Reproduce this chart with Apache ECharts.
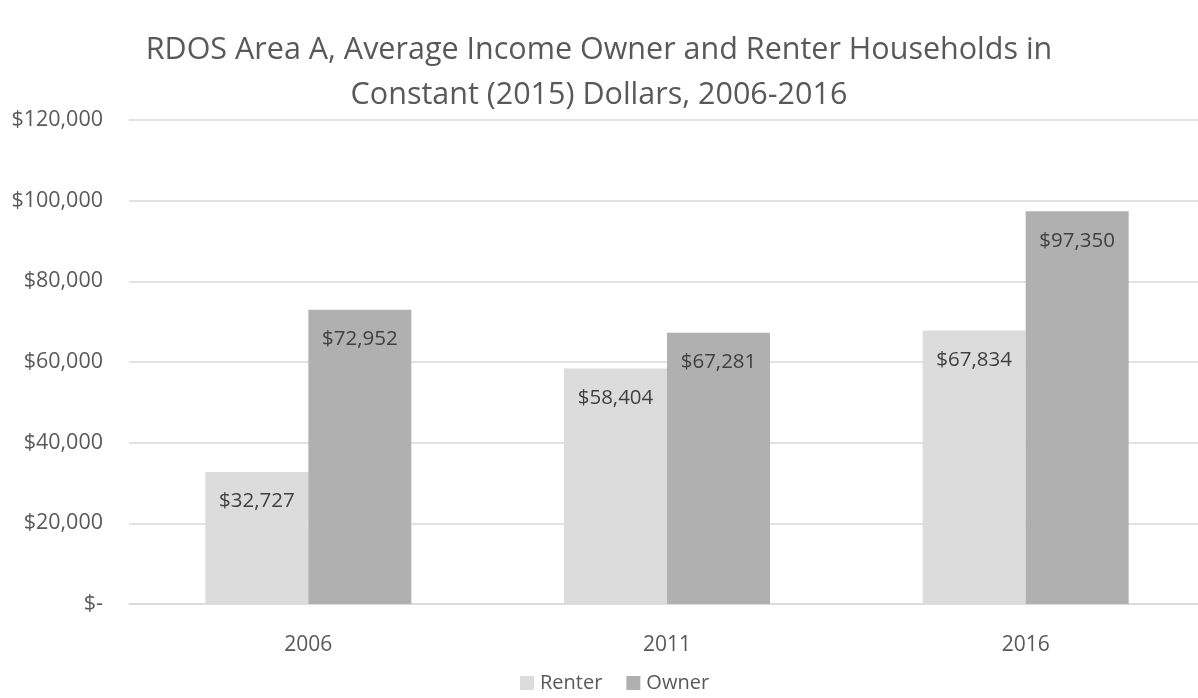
<!DOCTYPE html>
<html>
<head>
<meta charset="utf-8">
<script src="https://cdn.jsdelivr.net/npm/echarts@6/dist/echarts.min.js"></script>
<style>
  html, body { margin: 0; padding: 0; background: #fff; }
  #chart { width: 1198px; height: 698px; }
</style>
</head>
<body>
<div id="chart"></div>
<script>
// data
const years = ["2006", "2011", "2016"];
const renter = [32727, 58404, 67834];
const owner = [72952, 67281, 97350];
const yTicks = [0, 20000, 40000, 60000, 80000, 100000, 120000];

const money = v => (v === 0 ? "$-" : "$" + v.toLocaleString("en-US"));
const font = "'Open Sans', 'Noto Sans', sans-serif";

const myChart = echarts.init(document.getElementById("chart"));

const labelStyle = {
  show: true,
  position: "insideTop",
  distance: 19,
  color: "#404040",
  fontSize: 20.5,
  fontFamily: font,
  formatter: p => money(p.value)
};

const option = {
  backgroundColor: "#fff",
  animation: false,
  title: {
    text: "RDOS Area A, Average Income Owner and Renter Households in\nConstant (2015) Dollars, 2006-2016",
    left: "center",
    top: 23,
    textStyle: {
      color: "#595959",
      fontSize: 30.5,
      fontWeight: "normal",
      fontFamily: font,
      lineHeight: 45
    }
  },
  legend: {
    top: 672,
    left: 515,
    padding: [0, 5],
    itemWidth: 14,
    itemHeight: 14,
    itemGap: 24,
    icon: "rect",
    textStyle: { color: "#595959", fontSize: 20, lineHeight: 22, fontFamily: font, padding: [0, 0, 0, 1] },
    data: ["Renter", "Owner"]
  },
  grid: {
    left: 129,
    top: 120,
    width: 1076,
    height: 484,
    containLabel: false,
    outerBoundsMode: "none"
  },
  xAxis: {
    type: "category",
    data: years,
    axisTick: { show: false },
    axisLine: { lineStyle: { color: "#d9d9d9", width: 1.5 } },
    axisLabel: { color: "#595959", fontSize: 21, fontFamily: font, margin: 31 }
  },
  yAxis: {
    type: "value",
    min: yTicks[0],
    max: yTicks[yTicks.length - 1],
    interval: yTicks[1] - yTicks[0],
    axisLine: { show: false },
    axisTick: { show: false },
    splitLine: { lineStyle: { color: "#d9d9d9", width: 1.5 } },
    axisLabel: { color: "#595959", fontSize: 21.5, fontFamily: font, margin: 26, formatter: money }
  },
  series: [
    {
      name: "Renter",
      type: "bar",
      data: renter,
      barWidth: 103,
      barGap: "0%",
      itemStyle: { color: "#dcdcdc" },
      label: labelStyle
    },
    {
      name: "Owner",
      type: "bar",
      data: owner,
      barWidth: 103,
      barGap: "0%",
      itemStyle: { color: "#b0b0b0" },
      label: labelStyle
    }
  ]
};

option && myChart.setOption(option);
</script>
</body>
</html>
